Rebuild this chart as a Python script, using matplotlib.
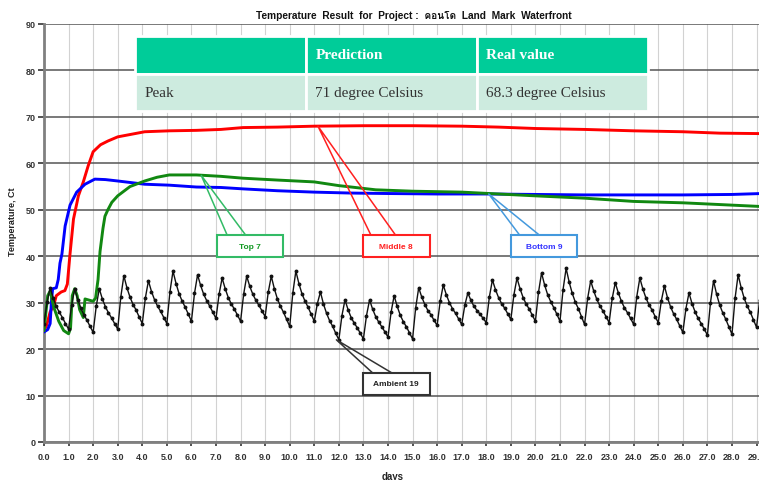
import numpy as np
import matplotlib
matplotlib.use('Agg')
import matplotlib.pyplot as plt
from matplotlib import font_manager
from matplotlib.ft2font import FT2Font
from matplotlib.patches import Rectangle

# ambient logged every 3 hours (8 samples per day)
ambient_temp = [
    25.5, 30.1, 33.2, 31.0, 29.2, 27.9, 26.8, 25.5,
    24.3, 29.5, 33.0, 30.6, 28.8, 27.4, 26.2, 24.9,
    23.6, 29.2, 33.0, 30.8, 29.1, 27.8, 26.7, 25.5,
    24.3, 31.2, 35.8, 33.2, 31.2, 29.6, 28.4, 26.9,
    25.5, 31.0, 34.7, 32.4, 30.6, 29.2, 28.1, 26.8,
    25.5, 32.3, 36.8, 34.1, 31.9, 30.3, 29.0, 27.5,
    26.0, 32.0, 36.0, 33.7, 31.8, 30.4, 29.2, 27.9,
    26.6, 31.8, 35.3, 33.0, 31.1, 29.7, 28.6, 27.3,
    26.0, 31.8, 35.7, 33.5, 31.8, 30.5, 29.4, 28.2,
    27.0, 32.2, 35.7, 33.0, 30.8, 29.2, 27.9, 26.4,
    24.9, 32.0, 36.8, 34.1, 31.9, 30.3, 29.0, 27.5,
    26.0, 29.8, 32.3, 29.7, 27.7, 26.1, 24.9, 23.4,
    22.0, 27.2, 30.6, 28.5, 26.8, 25.6, 24.6, 23.4,
    22.2, 27.2, 30.6, 28.6, 27.0, 25.8, 24.8, 23.7,
    22.6, 27.9, 31.5, 29.2, 27.3, 25.9, 24.8, 23.5,
    22.2, 28.8, 33.2, 31.2, 29.6, 28.3, 27.4, 26.2,
    25.1, 30.3, 33.8, 31.7, 30.0, 28.7, 27.7, 26.5,
    25.3, 29.4, 32.1, 30.5, 29.2, 28.3, 27.5, 26.6,
    25.7, 31.2, 34.9, 32.8, 31.1, 29.8, 28.8, 27.6,
    26.4, 31.7, 35.3, 33.0, 31.1, 29.7, 28.6, 27.3,
    26.0, 32.2, 36.4, 33.8, 31.7, 30.2, 28.9, 27.5,
    26.0, 32.8, 37.4, 34.4, 32.0, 30.1, 28.7, 27.0,
    25.3, 30.9, 34.7, 32.5, 30.7, 29.3, 28.2, 27.0,
    25.7, 30.9, 34.3, 32.1, 30.3, 28.9, 27.8, 26.6,
    25.3, 31.3, 35.3, 32.9, 31.0, 29.5, 28.4, 27.0,
    25.7, 30.4, 33.6, 31.1, 29.1, 27.6, 26.4, 25.0,
    23.6, 28.7, 32.1, 29.8, 28.0, 26.6, 25.5, 24.3,
    23.0, 30.0, 34.7, 31.8, 29.5, 27.8, 26.4, 24.8,
    23.2, 30.9, 36.0, 33.2, 30.9, 29.2, 27.9, 26.3,
    24.7, 30.5,
]
ambient_days = np.arange(len(ambient_temp)) / 8.0

middle_days = [0, 0.1, 0.25, 0.4, 0.5, 0.7, 0.85, 0.95, 1.05, 1.2, 1.4, 1.6, 1.8, 2.0,
               2.3, 2.6, 3.0, 3.5, 4.1, 5.1, 6.2, 7.2, 8.1, 9.5, 11, 13, 15, 17, 18.5,
               20, 22, 24, 26, 27.5, 29.2]
middle_temp = [24, 25, 28, 29.5, 31.5, 32.3, 32.6, 34, 40, 48, 53, 56, 59.5, 62.5,
               64, 64.8, 65.7, 66.2, 66.8, 67, 67.1, 67.3, 67.7, 67.8, 68, 68.1, 68.1, 68,
               67.8, 67.5, 67.3, 67, 66.8, 66.5, 66.4]

bottom_days = [0, 0.15, 0.25, 0.3, 0.35, 0.5, 0.58, 0.65, 0.73, 0.86, 1.06, 1.33, 1.67,
               2.07, 2.5, 3.0, 4.1, 5.1, 6.2, 7.2, 8.1, 9.5, 11, 12.5, 14, 16, 18, 20,
               22, 24, 26, 28, 29.2]
bottom_temp = [23.7, 24.2, 25.5, 30, 33, 33.2, 35, 38.5, 40.5, 46.5, 51, 53.8, 55.5,
               56.6, 56.5, 56.2, 55.5, 55.3, 54.9, 54.8, 54.5, 54.1, 53.8, 53.6, 53.5,
               53.4, 53.4, 53.3, 53.2, 53.2, 53.2, 53.3, 53.5]

top_days = [0, 0.08, 0.15, 0.25, 0.4, 0.6, 0.8, 1.0, 1.08, 1.15, 1.25, 1.35, 1.45, 1.6,
            1.67, 1.8, 2.0, 2.1, 2.2, 2.28, 2.4, 2.48, 2.6, 2.76, 3.0, 3.5, 4.1, 4.6,
            5.1, 6.2, 7.2, 8.1, 9.5, 11, 12, 13.5, 15, 17, 18.5, 20, 22, 24, 26, 28, 29.2]
top_temp = [24, 28, 31.5, 32.5, 29, 26, 24, 23.3, 24.5, 31.5, 33, 31.5, 28.5, 26.8,
            30.8, 30.6, 30.3, 31, 35, 41, 46, 48.6, 50, 51.6, 53, 55, 56.2, 57,
            57.5, 57.5, 57.2, 56.8, 56.4, 56, 55.2, 54.3, 54, 53.8, 53.4, 53, 52.5,
            51.8, 51.5, 51, 50.7]

x_ticks = np.arange(0, 30)
x_ticklabels = ['%.1f' % d for d in x_ticks]
y_ticks = np.arange(0, 100, 10)

table_header = ['', 'Prediction', 'Real value']
table_row = ['Peak', '71 degree Celsius', '68.3 degree Celsius']

# callouts: label, colour, box (x0, x1, y0, y1), base of wedge (x0, x1), tip (x, y)
callouts = [
    ('Top 7', '#119922', '#33BB66', (7.03, 9.72, 39.8, 44.6), (7.45, 8.2), (6.4, 57.4)),
    ('Middle 8', '#FF2020', '#FF2020', (12.97, 15.69, 39.8, 44.6), (13.3, 14.3), (11.15, 68.0)),
    ('Bottom 9', '#3333FF', '#4499DD', (19.02, 21.7, 39.8, 44.6), (19.35, 20.15), (18.1, 53.4)),
    ('Ambient 19', '#222222', '#333333', (12.97, 15.69, 10.1, 14.9), (13.37, 14.15), (11.9, 22.0)),
]

# find an installed font that has Thai glyphs for the title
thai_family = []
for f in font_manager.fontManager.ttflist:
    try:
        if ord(u'\u0e04') in FT2Font(f.fname).get_charmap():
            thai_family = [f.name]
            break
    except Exception:
        pass

plt.rcParams['font.family'] = ['Liberation Sans', 'DejaVu Sans']

fig = plt.figure(figsize=(7.59, 4.81), dpi=100)
ax = fig.add_axes([44 / 759., 38 / 481., 1 - 44 / 759., 418 / 481.])

ax.plot(middle_days, middle_temp, '-', color='#FF0000', lw=2.1, zorder=3)
ax.plot(bottom_days, bottom_temp, '-', color='#0000FF', lw=2.1, zorder=3)
ax.plot(top_days, top_temp, '-', color='#118811', lw=2.1, zorder=3)
ax.plot(ambient_days, ambient_temp, '-', color='#111111', lw=1.0, marker='o', ms=1.8, zorder=4)

ax.set_xlim(0, 29.1)
ax.set_ylim(0, 90)
ax.set_xticks(x_ticks)
ax.set_xticklabels(x_ticklabels)
ax.set_yticks(y_ticks)
ax.tick_params(axis='both', labelsize=6.5, colors='#333333', length=4, width=1.2, pad=2)
for lab in ax.get_xticklabels() + ax.get_yticklabels():
    lab.set_fontweight('bold')
ax.tick_params(axis='x', length=3, pad=4)

ax.grid(axis='x', color='#d2d2d2', lw=0.8, zorder=0)
ax.grid(axis='y', color='#555555', lw=1.1, zorder=0)
ax.set_axisbelow(True)
for side in ['top', 'right']:
    ax.spines[side].set_visible(False)
for side in ['left', 'bottom']:
    ax.spines[side].set_color('#808080')
    ax.spines[side].set_linewidth(2)

ax.set_ylabel('Temperature, Ct', fontsize=6.5, fontweight='bold', color='#222222')
ax.yaxis.set_label_coords(-0.038, 0.53)
ax.set_xlabel('days', fontsize=7, fontweight='bold', color='#222222')
ax.xaxis.set_label_coords(0.487, -0.07)

fig.text(0.545, 0.966, u'Temperature  Result  for  Project :  \u0e04\u0e2d\u0e19\u0e42\u0e14  Land  Mark  Waterfront',
         ha='center', va='center', fontsize=7.3, fontweight='bold', color='#111111',
         family=['Liberation Sans'] + thai_family + ['DejaVu Sans'])

for label, tcol, ecol, box, base, tip in callouts:
    x0, x1, y0, y1 = box
    ax.plot([base[0], tip[0], base[1]], [y1, tip[1], y1], color=ecol, lw=1.1, zorder=6)
    ax.add_patch(Rectangle((x0, y0), x1 - x0, y1 - y0, facecolor='white', edgecolor=ecol,
                           lw=1.5, zorder=7))
    ax.text((x0 + x1) / 2, (y0 + y1) / 2, label, ha='center', va='center', fontsize=6,
            fontweight='bold', color=tcol, zorder=8)

tbl = ax.table(cellText=[table_header, table_row], cellLoc='left',
               bbox=[(135 - 44) / 715., (443 - 112) / 418., 513 / 715., 75 / 418.])
tbl.auto_set_font_size(False)
tbl.set_fontsize(11)
tbl.set_zorder(10)
for (r, c), cell in tbl.get_celld().items():
    cell.set_edgecolor('white')
    cell.set_linewidth(2)
    cell.PAD = 0.055
    if r == 0:
        cell.set_facecolor('#00CC99')
        cell.set_text_props(color='white', fontweight='bold', family='Liberation Serif')
    else:
        cell.set_facecolor('#CDEBDF')
        cell.set_text_props(color='#333333', family='Liberation Serif')

fig.savefig('out.png', dpi=100)
